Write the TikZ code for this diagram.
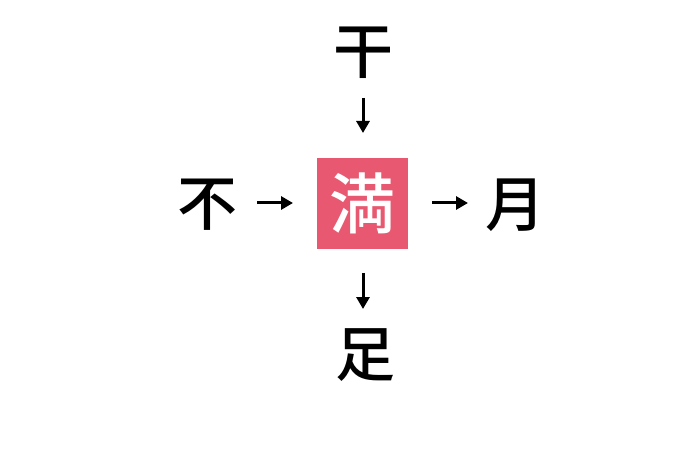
\documentclass[tikz,border=0pt]{standalone}
\usepackage{fontspec}
\newfontfamily\cjk{Noto Sans CJK JP}[BoldFont={* Medium}]
\usetikzlibrary{arrows.meta}
\definecolor{boxred}{RGB}{232,88,112}
\tikzset{
  kanji/.style={font=\cjk\bfseries\fontsize{60}{60}\selectfont, inner sep=0pt, text=black},
  center/.style={fill=boxred, minimum size=91pt, inner sep=0pt, text=white, font=\cjk\bfseries\fontsize{66}{66}\selectfont},
  arr/.style={line width=3pt, -{Triangle[length=12pt,width=13pt]}}
}
\begin{document}
\begin{tikzpicture}[x=1pt,y=1pt]
\useasboundingbox (0,0) rectangle (680,453);
\node[center] (man) at (362.5,249.5) {満};
\node[kanji] (kan) at (363,400) {干};
\node[kanji] (fu) at (207,248) {不};
\node[kanji] (tsuki) at (515,248) {月};
\node[kanji] (ashi) at (365,98) {足};
\coordinate (a1s) at (363,355);
\coordinate (a1e) at (363,320);
\coordinate (a2s) at (257,250);
\coordinate (a2e) at (293,250);
\coordinate (a3s) at (432,250);
\coordinate (a3e) at (468,250);
\coordinate (a4s) at (363,180);
\coordinate (a4e) at (363,144);
\draw[arr] (a1s) -- (a1e);
\draw[arr] (a2s) -- (a2e);
\draw[arr] (a3s) -- (a3e);
\draw[arr] (a4s) -- (a4e);
\end{tikzpicture}
\end{document}
